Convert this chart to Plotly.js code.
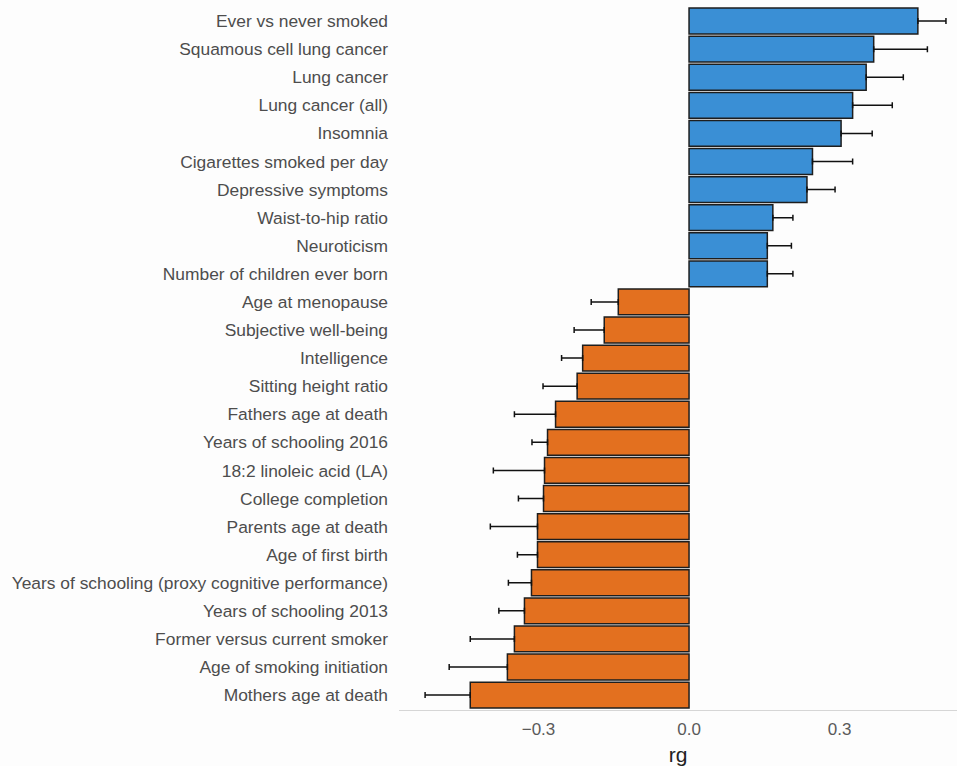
<!DOCTYPE html>
<html>
<head>
<meta charset="utf-8">
<script src="https://cdn.plot.ly/plotly-3.0.1.min.js"></script>
<style>
  html, body { margin: 0; padding: 0; background: #fdfdfd; }
  #chart { width: 957px; height: 766px; }
</style>
</head>
<body>
<div id="chart"></div>
<script>
// Genetic correlations (rg) with standard errors, positive traits first
const posTraits = [
  "Ever vs never smoked",
  "Squamous cell lung cancer",
  "Lung cancer",
  "Lung cancer (all)",
  "Insomnia",
  "Cigarettes smoked per day",
  "Depressive symptoms",
  "Waist-to-hip ratio",
  "Neuroticism",
  "Number of children ever born"
];
const posRg = [0.456, 0.368, 0.353, 0.326, 0.303, 0.246, 0.235, 0.167, 0.156, 0.156];
const posSe = [0.056, 0.107, 0.074, 0.079, 0.062, 0.080, 0.056, 0.040, 0.048, 0.051];

const negTraits = [
  "Age at menopause",
  "Subjective well-being",
  "Intelligence",
  "Sitting height ratio",
  "Fathers age at death",
  "Years of schooling 2016",
  "18:2 linoleic acid (LA)",
  "College completion",
  "Parents age at death",
  "Age of first birth",
  "Years of schooling (proxy cognitive performance)",
  "Years of schooling 2013",
  "Former versus current smoker",
  "Age of smoking initiation",
  "Mothers age at death"
];
const negRg = [-0.141, -0.169, -0.212, -0.223, -0.266, -0.282, -0.288, -0.290, -0.302, -0.302, -0.314, -0.328, -0.348, -0.362, -0.436];
const negSe = [0.054, 0.060, 0.042, 0.068, 0.082, 0.031, 0.102, 0.050, 0.094, 0.040, 0.046, 0.051, 0.088, 0.116, 0.090];

const tickVals = [-0.3, 0.0, 0.3];
const tickText = ["\u22120.3", "0.0", "0.3"];

const allTraits = posTraits.concat(negTraits);
const zeros = n => new Array(n).fill(0);

const outline = { color: "#1e1e1e", width: 1.5 };
const errStyle = { color: "#111111", thickness: 1.5, width: 3 };

const traces = [
  {
    type: "bar",
    orientation: "h",
    y: posTraits,
    x: posRg,
    marker: { color: "#3a8fd5", line: outline },
    error_x: Object.assign({ type: "data", symmetric: false, array: posSe, arrayminus: zeros(posSe.length) }, errStyle),
    hoverinfo: "x+y",
    showlegend: false
  },
  {
    type: "bar",
    orientation: "h",
    y: negTraits,
    x: negRg,
    marker: { color: "#e3701f", line: outline },
    error_x: Object.assign({ type: "data", symmetric: false, array: zeros(negSe.length), arrayminus: negSe }, errStyle),
    hoverinfo: "x+y",
    showlegend: false
  }
];

const layout = {
  width: 957,
  height: 766,
  margin: { l: 399, r: 0, t: 7, b: 56 },
  paper_bgcolor: "#fdfdfd",
  plot_bgcolor: "#fdfdfd",
  barmode: "overlay",
  bargap: 0.08,
  font: { family: "Liberation Sans, Arial, sans-serif", size: 17.4, color: "#4d4d4d" },
  xaxis: {
    range: [-0.578, 0.534],
    tickvals: tickVals,
    ticktext: tickText,
    showgrid: false,
    zeroline: false,
    showline: true,
    linecolor: "#d6d6d6",
    linewidth: 1,
    ticks: "",
    ticklabelstandoff: 4,
    tickfont: { size: 17, color: "#5a5a5a" },
    title: { text: "rg", font: { size: 21, color: "#222222" }, standoff: 10 }
  },
  yaxis: {
    type: "category",
    categoryorder: "array",
    categoryarray: allTraits,
    range: [24.53, -0.5],
    showgrid: false,
    zeroline: false,
    showline: false,
    ticks: "",
    ticklabelstandoff: 10,
    tickfont: { size: 17.4, color: "#4d4d4d" }
  }
};

Plotly.newPlot("chart", traces, layout, { displayModeBar: false, staticPlot: true });
</script>
</body>
</html>
